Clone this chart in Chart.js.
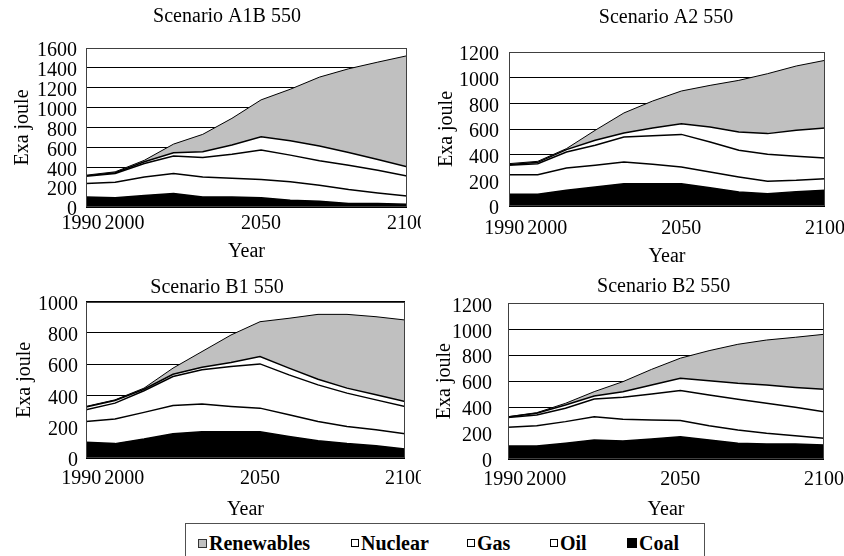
<!DOCTYPE html>
<html>
<head>
<meta charset="utf-8">
<script src="https://cdn.jsdelivr.net/npm/chart.js@4/dist/chart.umd.min.js"></script>
<style>
  html, body { margin:0; padding:0; background:#fff; width:844px; height:556px; overflow:hidden; position:relative; }
  canvas { position:absolute; }
  #legend { position:absolute; left:185px; top:523px; width:520px; height:44px; border:1px solid #505050; box-sizing:border-box; font:bold 20px "Liberation Serif", "Times New Roman", serif; color:#000; }
  .item { position:absolute; top:7px; height:24px; display:flex; align-items:center; white-space:nowrap; }
  .mk { display:inline-block; box-sizing:border-box; margin-right:2px; }
</style>
</head>
<body>
<canvas id="c0"></canvas>
<canvas id="c1"></canvas>
<canvas id="c2"></canvas>
<canvas id="c3"></canvas>
<div id="legend"></div>
<script>
// ---------- DATA ----------
const years = [1990, 2000, 2010, 2020, 2030, 2040, 2050, 2060, 2070, 2080, 2090, 2100];
const xTickValues = [1990, 2000, 2050, 2100];
const xTickLabels = ['1990', '2000', '2050', '2100'];
const seriesNames = ['Coal', 'Oil', 'Gas', 'Nuclear', 'Renewables'];
const legendNames = ['Renewables', 'Nuclear', 'Gas', 'Oil', 'Coal'];
const panelTitles = ['Scenario A1B 550', 'Scenario A2 550', 'Scenario B1 550', 'Scenario B2 550'];
const yMaxes = [1600, 1200, 1000, 1200];
const yStep = 200;
const yTitle = 'Exa joule';
const xTitle = 'Year';

// Scenario A1B 550
const a1bCoal       = [101,  94, 115, 135, 101, 101,  94,  67,  57,  34,  34,  27];
const a1bOil        = [135, 155, 188, 202, 202, 189, 182, 186, 162, 141, 107,  84];
const a1bGas        = [ 74,  88, 135, 175, 195, 242, 297, 269, 246, 246, 229, 202];
const a1bNuclear    = [  3,   7,  17,  34,  58,  91, 134, 145, 148, 128, 108,  91];
const a1bRenewables = [  7,  10,  15,  87, 175, 269, 371, 518, 694, 842, 980, 1118];

// Scenario A2 550
const a2Coal       = [ 91,  91, 122, 148, 174, 174, 174, 143, 109,  96, 112, 122];
const a2Oil        = [153, 153, 174, 169, 169, 151, 130, 122, 117,  96,  88,  91];
const a2Gas        = [ 73,  86, 125, 156, 195, 223, 254, 234, 208, 211, 187, 161];
const a2Nuclear    = [  5,  10,  18,  39,  31,  60,  83, 116, 143, 161, 203, 234];
const a2Renewables = [  8,   8,   8,  78, 156, 210, 255, 325, 402, 467, 501, 527];

// Scenario B1 550
const b1Coal       = [100,  92, 121, 155, 168, 168, 168, 138, 111,  92,  79,  57];
const b1Oil        = [134, 157, 171, 181, 177, 162, 151, 139, 123, 110, 102,  98];
const b1Gas        = [ 75, 102, 138, 185, 219, 255, 283, 255, 234, 213, 191, 175];
const b1Nuclear    = [ 17,  17,  10,  15,  17,  26,  47,  43,  36,  32,  32,  32];
const b1Renewables = [  4,   4,   7,  39, 100, 176, 223, 319, 415, 472, 500, 521];

// Scenario B2 550
const b2Coal       = [100, 100, 121, 146, 139, 154, 172, 146, 121, 116, 116, 108];
const b2Oil        = [144, 157, 167, 180, 167, 147, 124, 111, 103,  82,  64,  51];
const b2Gas        = [ 75,  82, 103, 137, 169, 200, 231, 236, 236, 231, 218, 206];
const b2Nuclear    = [  5,  13,  25,  23,  44,  69,  96, 111, 123, 141, 154, 172];
const b2Renewables = [  2,   5,  13,  33,  77, 121, 154, 231, 301, 347, 386, 424];

const panelSeries = [
  [a1bCoal, a1bOil, a1bGas, a1bNuclear, a1bRenewables],
  [a2Coal, a2Oil, a2Gas, a2Nuclear, a2Renewables],
  [b1Coal, b1Oil, b1Gas, b1Nuclear, b1Renewables],
  [b2Coal, b2Oil, b2Gas, b2Nuclear, b2Renewables]
];

// ---------- STYLE / LAYOUT ----------
const FONT = "'Liberation Serif', 'Times New Roman', serif";
const seriesFill = { Coal:'#000000', Oil:'#ffffff', Gas:'#ffffff', Nuclear:'#ffffff', Renewables:'#c0c0c0' };
const seriesLineWidth = { Coal:1.5, Oil:1.5, Gas:1.5, Nuclear:1.5, Renewables:1 };

const layouts = [
  { left:0,   top:0,   w:421, h:270, padL:11, padR:14, titleCenter:227,   tpT:5,   tpB:19,  yW:75, yTickPad:9,  xH:63, xTickPad:5,  xTitlePb:6 },
  { left:422, top:0,   w:422, h:270, padL:13, padR:19, titleCenter:244,   tpT:6,   tpB:22,  yW:74, yTickPad:10, xH:64, xTickPad:11, xTitlePb:1 },
  { left:0,   top:270, w:421, h:252, padL:13, padR:16, titleCenter:217,   tpT:5.5, tpB:2.2, yW:73, yTickPad:8,  xH:64, xTickPad:9,  xTitlePb:0 },
  { left:422, top:270, w:422, h:252, padL:11, padR:20, titleCenter:241.7, tpT:4.5, tpB:4.8, yW:75, yTickPad:16, xH:63, xTickPad:9,  xTitlePb:0 }
];

Chart.defaults.font.family = FONT;
Chart.defaults.color = '#000';

const framePlugin = {
  id: 'frame',
  afterDatasetsDraw(chart) {
    const { ctx, chartArea: a } = chart;
    const x0 = Math.round(a.left) + 0.5, y0 = Math.round(a.top) + 0.5;
    const x1 = Math.round(a.right) - 0.5, y1 = Math.round(a.bottom) - 0.5;
    ctx.save();
    ctx.strokeStyle = '#404040';
    ctx.lineWidth = 1;
    ctx.strokeRect(x0, y0, x1 - x0, y1 - y0);
    ctx.restore();
  }
};

// push overlapping neighbouring x tick labels apart (as the original did with 1990/2000)
const separateLabels = {
  id: 'separateLabels',
  beforeDraw(chart) {
    const s = chart.scales.x;
    if (!s || !s.getLabelItems) return;
    const items = s.getLabelItems(chart.chartArea);
    const ctx = chart.ctx;
    const w = items.map(it => { ctx.save(); ctx.font = it.font.string; const m = ctx.measureText(String(it.label)).width; ctx.restore(); return m; });
    for (let i = 0; i < items.length - 1; i++) {
      const a = items[i].options.translation, b = items[i + 1].options.translation;
      const need = (w[i] + w[i + 1]) / 2 + 3;
      const dist = b[0] - a[0];
      if (dist < need) { const d = need - dist; a[0] -= d / 3; b[0] += 2 * d / 3; }
    }
  }
};

// place the chart title at the horizontal centre used by the original
const titlePlace = {
  id: 'titlePlace',
  beforeDraw(chart, args, opts) {
    const t = chart.titleBlock;
    if (!t || opts.center == null) return;
    const half = (t.right - t.left) / 2;
    t.left = opts.center - half;
    t.right = opts.center + half;
  }
};

function makeChart(idx) {
  const L = layouts[idx];
  const canvas = document.getElementById('c' + idx);
  canvas.width = L.w; canvas.height = L.h;
  canvas.style.left = L.left + 'px'; canvas.style.top = L.top + 'px';
  canvas.style.width = L.w + 'px'; canvas.style.height = L.h + 'px';
  const tickFont = { family: FONT, size: 20 };
  const datasets = seriesNames.map((name, k) => ({
    label: name,
    data: panelSeries[idx][k].map((v, i) => ({ x: years[i], y: v })),
    fill: k === 0 ? 'origin' : '-1',
    backgroundColor: seriesFill[name],
    borderColor: '#000',
    borderWidth: seriesLineWidth[name],
    pointRadius: 0,
    pointHoverRadius: 0,
    tension: 0
  }));
  return new Chart(canvas, {
    type: 'line',
    data: { datasets },
    options: {
      responsive: false,
      maintainAspectRatio: false,
      animation: false,
      devicePixelRatio: 1,
      events: [],
      layout: { padding: { left: L.padL, right: L.padR, top: 0, bottom: 0 } },
      plugins: {
        legend: { display: false },
        tooltip: { enabled: false },
        titlePlace: { center: L.titleCenter },
        title: {
          display: true, text: panelTitles[idx], color: '#000',
          font: { family: FONT, size: 20, weight: 'normal' },
          padding: { top: L.tpT, bottom: L.tpB }
        }
      },
      scales: {
        x: {
          type: 'linear', min: 1990, max: 2100,
          grid: { display: false, drawTicks: false },
          border: { display: false },
          afterBuildTicks: s => { s.ticks = xTickValues.map(v => ({ value: v })); },
          afterFit: s => { s.height = L.xH; s.paddingLeft = 0; s.paddingRight = 0; },
          ticks: {
            autoSkip: false, maxRotation: 0, minRotation: 0, padding: L.xTickPad,
            font: tickFont, color: '#000',
            callback: v => { const i = xTickValues.indexOf(v); return i >= 0 ? xTickLabels[i] : ''; }
          },
          title: { display: true, text: xTitle, color: '#000', font: tickFont, padding: { top: 0, bottom: L.xTitlePb } }
        },
        y: {
          stacked: true, min: 0, max: yMaxes[idx],
          grid: { color: '#000', lineWidth: 1, drawTicks: false },
          border: { display: false },
          afterFit: s => { s.width = L.yW; s.paddingTop = 0; s.paddingBottom = 0; },
          ticks: { stepSize: yStep, autoSkip: false, padding: L.yTickPad, labelOffset: 3, font: tickFont, color: '#000', callback: v => String(v) },
          title: { display: true, text: yTitle, color: '#000', font: tickFont, padding: { top: 0, bottom: 0 } }
        }
      }
    },
    plugins: [framePlugin, separateLabels, titlePlace]
  });
}

for (let i = 0; i < 4; i++) makeChart(i);

// ---------- LEGEND ----------
const legendItemLeft = [12, 165, 281, 364, 441];
const markerStyle = {
  Renewables: { size: 9, bg: '#c0c0c0', border: '#333' },
  Nuclear:    { size: 8, bg: '#ffffff', border: '#000' },
  Gas:        { size: 8, bg: '#ffffff', border: '#000' },
  Oil:        { size: 8, bg: '#ffffff', border: '#000' },
  Coal:       { size: 10, bg: '#000000', border: '#000' }
};
const leg = document.getElementById('legend');
legendNames.forEach((name, i) => {
  const it = document.createElement('div');
  it.className = 'item';
  it.style.left = legendItemLeft[i] + 'px';
  const mk = document.createElement('span');
  mk.className = 'mk';
  const ms = markerStyle[name];
  mk.style.width = ms.size + 'px'; mk.style.height = ms.size + 'px';
  mk.style.background = ms.bg; mk.style.border = '1px solid ' + ms.border;
  const tx = document.createElement('span');
  tx.textContent = name;
  it.appendChild(mk); it.appendChild(tx);
  leg.appendChild(it);
});
</script>
</body>
</html>
